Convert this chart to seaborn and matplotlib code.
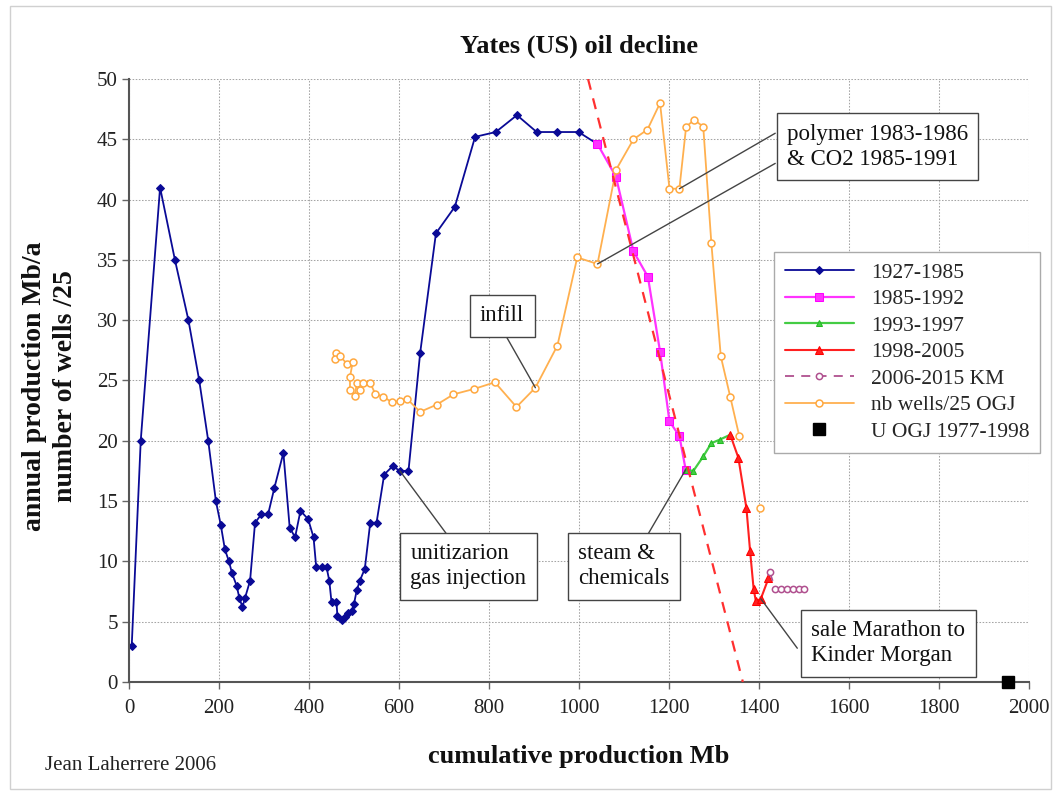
import matplotlib
matplotlib.use("Agg")
import matplotlib.pyplot as plt
import seaborn as sns
from matplotlib.patches import Rectangle

# Yates field, cumulative production (Mb) vs annual production (Mb/a)
blue_x = [6, 26, 69, 102, 132, 156, 176, 193, 204, 213, 222, 229, 239, 245, 252, 258,
          269, 280, 294, 309, 323, 343, 357, 369, 381, 398, 410, 416, 428, 439, 445, 450,
          461, 463, 473, 480, 487, 495, 500, 506, 513, 524, 536, 550, 567, 586, 602, 621,
          647, 682, 724, 769, 815, 862, 906, 952, 999, 1041]
blue_y = [3, 20, 41, 35, 30, 25, 20, 15, 13, 11, 10, 9, 8, 7, 6.2, 7,
          8.4, 13.2, 13.9, 13.9, 16.1, 19, 12.8, 12, 14.2, 13.5, 12, 9.5, 9.5, 9.5, 8.4, 6.6,
          6.6, 5.5, 5.1, 5.4, 5.7, 5.9, 6.5, 7.6, 8.4, 9.4, 13.2, 13.2, 17.2, 17.9, 17.5, 17.5,
          27.3, 37.2, 39.4, 45.2, 45.6, 47.0, 45.6, 45.6, 45.6, 44.6]

magenta_x = [1041, 1082, 1121, 1153, 1180, 1201, 1223, 1237]
magenta_y = [44.6, 41.9, 35.7, 33.6, 27.4, 21.6, 20.4, 17.6]

green_x = [1237, 1254, 1276, 1294, 1313, 1336]
green_y = [17.6, 17.5, 18.7, 19.8, 20.1, 20.5]

red_x = [1336, 1354, 1372, 1380, 1388, 1393, 1404, 1421]
red_y = [20.5, 18.6, 14.4, 10.9, 7.7, 6.7, 6.9, 8.6]

km_x = [1424, 1436, 1449, 1462, 1475, 1488, 1500]
km_y = [9.1, 7.7, 7.7, 7.7, 7.7, 7.7, 7.7]

# number of wells / 25 (last point stands alone)
wells_x = [461, 458, 469, 484, 497, 491, 491, 502, 506, 513, 521, 536, 547, 565, 584, 602,
           617, 647, 684, 721, 767, 813, 861, 903, 952, 996, 1041, 1082, 1121, 1152, 1180,
           1201, 1223, 1238, 1256, 1276, 1294, 1315, 1336, 1356, 1403]
wells_y = [27.25, 26.8, 27.0, 26.4, 26.5, 25.3, 24.2, 23.7, 24.8, 24.2, 24.8, 24.8, 23.9,
           23.65, 23.2, 23.3, 23.5, 22.4, 23.0, 23.85, 24.3, 24.85, 22.8, 24.4, 27.9, 35.2,
           34.66, 42.45, 45.0, 45.8, 48.0, 40.9, 40.9, 46.05, 46.6, 46.05, 36.4, 27.0, 23.65,
           20.4, 14.4]

ogj_x = [1954]
ogj_y = [0]

# linear decline fit
decline_x = [1020, 1364]
decline_y = [50, 0]

sns.set_theme(style="whitegrid")
plt.rcParams['font.family'] = ['Liberation Serif', 'DejaVu Serif']

fig = plt.figure(figsize=(10.55, 7.92), dpi=100)
ax = fig.add_axes([0.1223, 0.1389, 0.8531, 0.7614])

ax.plot(decline_x, decline_y, color='#ff3030', lw=1.6, ls=(0, (5, 4)), zorder=4)

sns.lineplot(x=blue_x, y=blue_y, ax=ax, sort=False, estimator=None, color='#0a0a96',
             lw=1.3, marker='D', markersize=4.5, markeredgecolor='#0a0a96', label='1927-1985')
sns.lineplot(x=magenta_x, y=magenta_y, ax=ax, sort=False, estimator=None, color='#ff33ff',
             lw=1.6, marker='s', markersize=5.5, markeredgecolor='#ff00ff', label='1985-1992')
sns.lineplot(x=green_x, y=green_y, ax=ax, sort=False, estimator=None, color='#44cc44',
             lw=1.6, marker='^', markersize=5, markeredgecolor='#22bb22', label='1993-1997')
sns.lineplot(x=red_x, y=red_y, ax=ax, sort=False, estimator=None, color='#ff2020',
             lw=1.5, marker='^', markersize=5.5, markeredgecolor='#ff0000', label='1998-2005')
sns.lineplot(x=km_x, y=km_y, ax=ax, sort=False, estimator=None, color='#b0508f',
             lw=1.3, ls=(0, (5, 4)), marker='o', markersize=4.5, markerfacecolor='white',
             markeredgecolor='#b0508f', markeredgewidth=1.1, label='2006-2015 KM')
sns.lineplot(x=wells_x[:-1], y=wells_y[:-1], ax=ax, sort=False, estimator=None,
             color='#ffb04f', lw=1.3, marker='o', markersize=5, markerfacecolor='white',
             markeredgecolor='#ffa83f', markeredgewidth=1.1, label='nb wells/25 OGJ')
ax.plot(wells_x[-1:], wells_y[-1:], ls='none', marker='o', markersize=5,
        markerfacecolor='white', markeredgecolor='#ffa83f', markeredgewidth=1.1)
ax.plot(ogj_x, ogj_y, ls='none', marker='s', markersize=8, color='black',
        clip_on=False, zorder=6, label='U OGJ 1977-1998')

ax.set_xlim(0, 2000)
ax.set_ylim(0, 50)
ax.set_xticks(range(0, 2001, 200))
ax.set_yticks(range(0, 51, 5))
ax.grid(True, color='#a5a5a5', ls=(0, (1.5, 1.5)), lw=0.75)
ax.tick_params(bottom=True, left=True, length=5, width=1, color='#666666',
               labelsize=15, labelcolor='#222222')
ax.tick_params(axis='x', pad=7)
ax.tick_params(axis='y', pad=3)
for side in ['top', 'right']:
    ax.spines[side].set_visible(False)
for side in ['left', 'bottom']:
    ax.spines[side].set_color('#555555')
    ax.spines[side].set_linewidth(1.5)

ax.set_xlabel('cumulative production Mb', fontsize=19, fontweight='bold', color='#111111')
ax.xaxis.label.set_va('center')
ax.xaxis.set_label_coords(0.5, -0.124)
ax.set_ylabel('annual production Mb/a\nnumber of wells /25', fontsize=20,
              fontweight='bold', color='#111111', linespacing=1.3)
ax.yaxis.label.set_va('center')
ax.yaxis.set_label_coords(-0.088, 0.49)

fig.text(0.549, 0.942, 'Yates (US) oil decline', ha='center', va='center',
         fontsize=19, fontweight='bold', color='#111111')
fig.text(0.043, 0.033, 'Jean Laherrere 2006', ha='left', va='center',
         fontsize=15, color='#222222')

handles, labels = ax.get_legend_handles_labels()
leg = ax.legend(handles, labels, loc='upper left', bbox_to_anchor=(0.7336, 0.6818),
                bbox_transform=fig.transFigure, frameon=True, fancybox=False,
                edgecolor='#aaaaaa', framealpha=1, fontsize=15.5, handlelength=3.2,
                labelspacing=0.3, borderpad=0.5, borderaxespad=0)
leg.get_frame().set_linewidth(1)
leg.set_zorder(10)

box = dict(boxstyle='square,pad=0.45', fc='white', ec='#444444', lw=1)
line = dict(arrowstyle='-', color='#444444', lw=1, shrinkA=0, shrinkB=0)


def callout(text, center, anchor, target):
    ax.annotate('', xy=target, xytext=anchor, arrowprops=line, zorder=5)
    ax.text(center[0], center[1], text, ha='center', va='center', multialignment='left',
            fontsize=16.5, color='#111111', bbox=box, zorder=7, linespacing=1.25)


callout('polymer 1983-1986\n& CO2 1985-1991', (1663, 44.4), (1436, 45.5),
        (wells_x[32], wells_y[32]))
ax.annotate('', xy=(wells_x[26], wells_y[26]), xytext=(1436, 43.0), arrowprops=line, zorder=5)
callout('infill', (829, 30.35), (839, 28.6), (wells_x[23], wells_y[23]))
callout('unitizarion\ngas injection', (754, 9.6), (710, 12.05), (blue_x[46], blue_y[46]))
callout('steam &\nchemicals', (1100, 9.6), (1150, 12.05), (green_x[0], green_y[0]))
callout('sale Marathon to\nKinder Morgan', (1687, 3.2), (1485, 2.8), (red_x[6], red_y[6]))

fig.patches.append(Rectangle((0.0095, 0.004), 0.987, 0.988, transform=fig.transFigure,
                             fill=False, ec='#d0d0d0', lw=1))

fig.savefig('out.png', dpi=100)
